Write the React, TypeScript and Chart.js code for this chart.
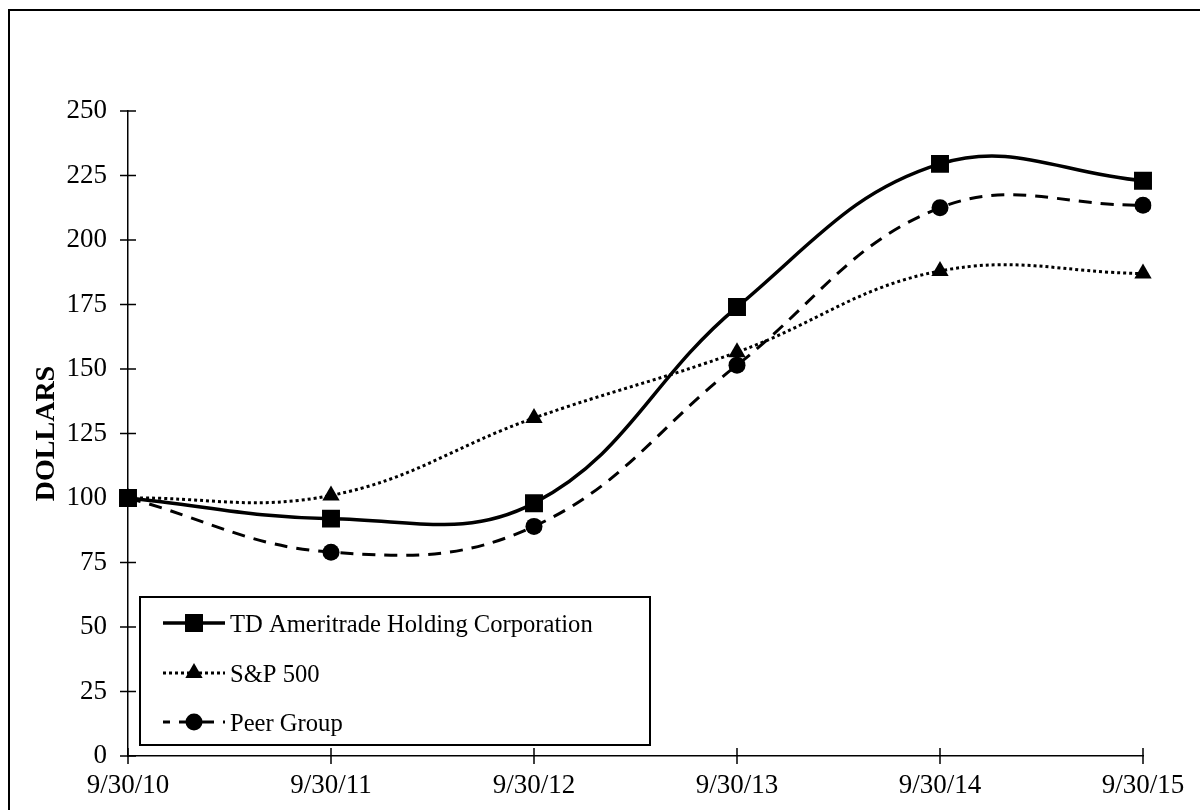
import React, { useEffect, useRef } from "react";
import { Chart, registerables } from "chart.js";

Chart.register(...registerables);

const categories = ["9/30/10", "9/30/11", "9/30/12", "9/30/13", "9/30/14", "9/30/15"];
const tdAmeritrade = [100, 92, 98, 174, 229.5, 223];
const sp500 = [100, 101, 131, 156.5, 188, 187];
const peerGroup = [100, 79, 89, 151.5, 212.5, 213.5];
const yTicks = [0, 25, 50, 75, 100, 125, 150, 175, 200, 225, 250];
const seriesNames = ["TD Ameritrade Holding Corporation", "S&P 500", "Peer Group"];
const yTitle = "DOLLARS";

const FONT = "'Liberation Serif', 'Times New Roman', serif";

type Style = { dash: number[]; width: number; marker: string; radius: number };
const styles: Style[] = [
  { dash: [], width: 3.5, marker: "rect", radius: 12.7 },
  { dash: [3, 3], width: 3, marker: "triangle", radius: 10 },
  { dash: [13, 9], width: 3, marker: "circle", radius: 8.5 },
];

function drawMarker(ctx: CanvasRenderingContext2D, kind: string, x: number, y: number, r: number) {
  ctx.beginPath();
  if (kind === "rect") {
    const s = Math.SQRT1_2 * r;
    ctx.rect(x - s, y - s, 2 * s, 2 * s);
  } else if (kind === "triangle") {
    const w = r * Math.sqrt(3) / 2;
    ctx.moveTo(x, y - r);
    ctx.lineTo(x + w, y + r / 2);
    ctx.lineTo(x - w, y + r / 2);
    ctx.closePath();
  } else {
    ctx.arc(x, y, r, 0, Math.PI * 2);
  }
  ctx.fill();
}

const customPlugin = {
  id: "customDecor",
  afterDraw(chart: any) {
    const ctx: CanvasRenderingContext2D = chart.ctx;
    const ca = chart.chartArea;
    const xs = chart.scales.x;
    const ys = chart.scales.y;
    ctx.save();
    ctx.strokeStyle = "#000";
    ctx.fillStyle = "#000";
    ctx.lineWidth = 1.5;
    ctx.setLineDash([]);
    ctx.beginPath();
    yTicks.forEach((v) => {
      const y = ys.getPixelForValue(v);
      ctx.moveTo(ca.left - 8, y);
      ctx.lineTo(ca.left + 8, y);
    });
    categories.forEach((_c, i) => {
      const x = xs.getPixelForValue(i);
      ctx.moveTo(x, ca.bottom - 8);
      ctx.lineTo(x, ca.bottom + 8);
    });
    ctx.stroke();

    // legend box
    const bx = ca.left + 12;
    const by = ca.bottom - 159;
    const bw = 510;
    const bh = 148;
    ctx.fillStyle = "#fff";
    ctx.fillRect(bx, by, bw, bh);
    ctx.lineWidth = 2;
    ctx.strokeStyle = "#000";
    ctx.strokeRect(bx, by, bw, bh);

    const rows = [26, 76, 125];
    seriesNames.forEach((name, i) => {
      const st = styles[i];
      const y = by + rows[i];
      const x1 = bx + 23;
      const x2 = bx + 85;
      ctx.save();
      ctx.lineWidth = st.width;
      ctx.setLineDash(st.dash);
      if (i === 2) ctx.lineDashOffset = 6;
      ctx.beginPath();
      ctx.moveTo(x1, y);
      ctx.lineTo(x2, y);
      ctx.stroke();
      ctx.restore();
      ctx.fillStyle = "#000";
      drawMarker(ctx, st.marker, (x1 + x2) / 2, y, st.radius);
      ctx.font = `24.6px ${FONT}`;
      ctx.textBaseline = "middle";
      ctx.textAlign = "left";
      ctx.fillText(name, x2 + 5, y + 2.5);
    });
    ctx.restore();
  },
};

export default function App() {
  const canvasRef = useRef<HTMLCanvasElement | null>(null);

  useEffect(() => {
    document.body.style.margin = "0";
    document.body.style.overflow = "hidden";
    const canvas = canvasRef.current;
    if (!canvas) return;
    const seriesData = [tdAmeritrade, sp500, peerGroup];
    const chart = new Chart(canvas, {
      type: "line",
      data: {
        labels: categories,
        datasets: seriesData.map((d, i) => ({
          label: seriesNames[i],
          data: d,
          borderColor: "#000",
          backgroundColor: "#000",
          borderWidth: styles[i].width,
          borderDash: styles[i].dash,
          borderCapStyle: "butt" as const,
          pointStyle: styles[i].marker as any,
          pointRadius: styles[i].radius,
          pointBorderWidth: 0,
          pointBackgroundColor: "#000",
          tension: 0.4,
          fill: false,
        })),
      },
      options: {
        animation: false,
        responsive: false,
        maintainAspectRatio: false,
        events: [],
        layout: { padding: { left: 22, top: 111, right: 57, bottom: 0 } },
        plugins: {
          legend: { display: false },
          tooltip: { enabled: false },
          title: { display: false },
        },
        scales: {
          x: {
            type: "category",
            offset: false,
            grid: { display: false, drawTicks: false },
            border: { display: true, color: "#000", width: 1.5 },
            ticks: {
              color: "#000",
              font: { family: FONT, size: 27 },
              padding: 14,
              maxRotation: 0,
              autoSkip: false,
            },
            afterFit: (scale: any) => {
              scale.height = 54;
            },
          },
          y: {
            type: "linear",
            min: 0,
            max: 250,
            grid: { display: false, drawTicks: false },
            border: { display: true, color: "#000", width: 1.5 },
            ticks: {
              stepSize: 25,
              color: "#000",
              font: { family: FONT, size: 27 },
              padding: 21,
            },
            title: {
              display: true,
              text: yTitle,
              color: "#000",
              font: { family: FONT, size: 28, weight: "bold" },
              padding: { top: 8, bottom: 0 },
            },
            afterFit: (scale: any) => {
              scale.width = 106;
            },
          },
        },
      },
      plugins: [customPlugin],
    });
    return () => chart.destroy();
  }, []);

  return (
    <div style={{ position: "relative", width: 1200, height: 810, overflow: "hidden", background: "#fff" }}>
      <div
        style={{
          position: "absolute",
          left: 8,
          top: 9,
          width: 1300,
          height: 900,
          border: "2px solid #000",
          boxSizing: "border-box",
        }}
      />
      <canvas ref={canvasRef} width={1200} height={810} style={{ position: "absolute", left: 0, top: 0 }} />
    </div>
  );
}
